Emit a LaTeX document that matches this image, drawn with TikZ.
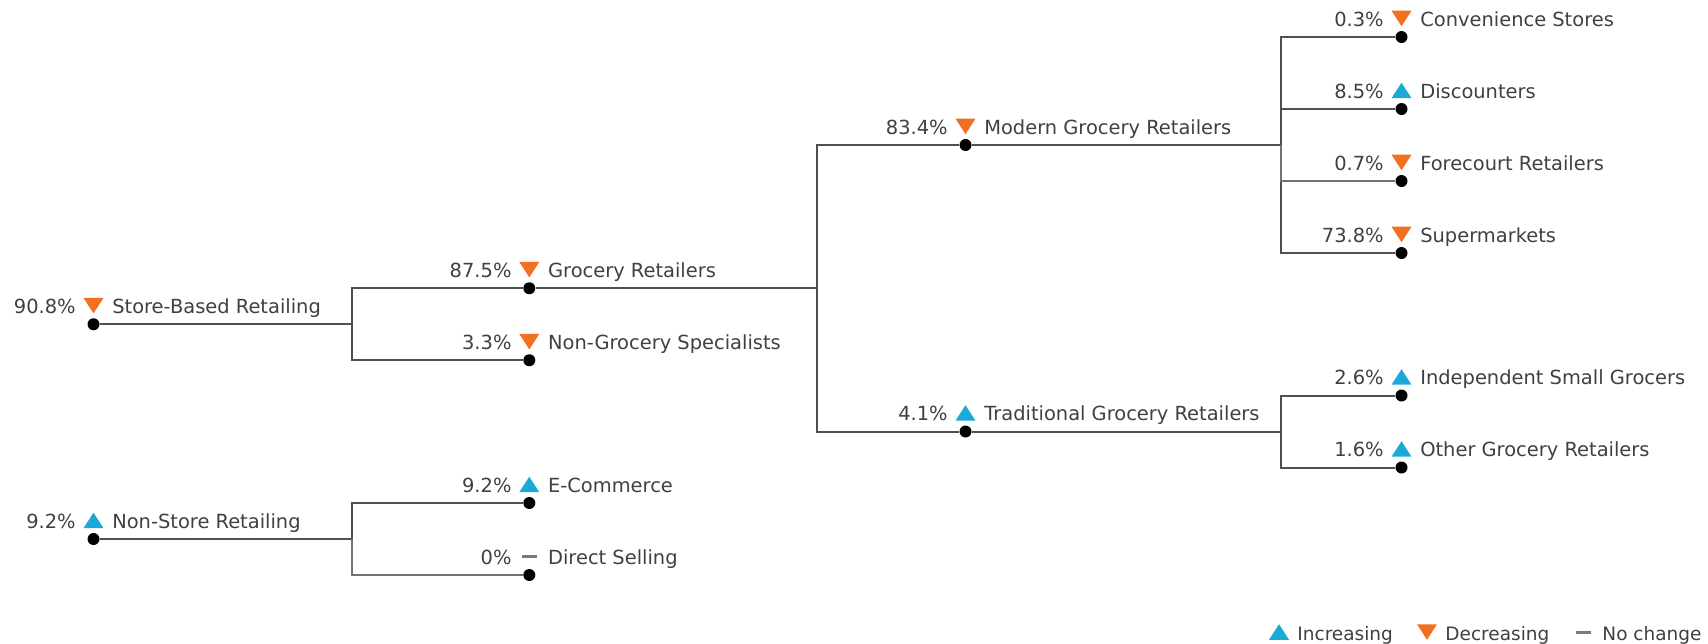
\documentclass[tikz,border=0pt]{standalone}
\usepackage{fontspec}
\setmainfont{DejaVu Sans}
\usepackage{tikz}
\usetikzlibrary{positioning}

\definecolor{inccol}{HTML}{1BA9D8}
\definecolor{deccol}{HTML}{F36F21}
\definecolor{flatcol}{HTML}{7A7A7A}
\definecolor{linecol}{HTML}{4F4F4F}
\definecolor{txtcol}{HTML}{404040}

\begin{document}
\begin{tikzpicture}[
            x = 0.5pt, y = -0.5pt, % one unit is one pixel, y runs down
            branch/.style = {draw = linecol, line width = 1pt},
            thinbranch/.style = {draw = linecol!80, line width = 0.55pt},
            dotnode/.style = {circle, fill = black, inner sep = 0, minimum size = 6pt},
            pcttext/.style = {font = \fontsize{9.72}{11}\selectfont, text = txtcol, inner sep = 0,
                anchor = base east, xshift = -5.5pt, yshift = 5.5pt},
            lbltext/.style = {font = \fontsize{9.72}{11}\selectfont, text = txtcol, inner sep = 0,
                anchor = base west, xshift = 6pt, yshift = 5.5pt},
            legtext/.style = {font = \fontsize{9.25}{11}\selectfont, text = txtcol, inner sep = 0,
                anchor = base west},
            pct/.style = {label = {[pcttext]left:#1}},
            lbl/.style = {label = {[lbltext]right:#1}},
            trimark/.style = {inner sep = 0, minimum width = 10pt, minimum height = 7.75pt},
            incshape/.style = {trimark, path picture = {\fill[inccol]
                (path picture bounding box.south west) -- (path picture bounding box.south east)
                -- (path picture bounding box.north) -- cycle;}},
            decshape/.style = {trimark, path picture = {\fill[deccol]
                (path picture bounding box.north west) -- (path picture bounding box.north east)
                -- (path picture bounding box.south) -- cycle;}},
            flatshape/.style = {fill = flatcol, inner sep = 0, minimum width = 7.5pt, minimum height = 1.5pt},
            incmark/.style = {label = {[incshape, anchor = south, label distance = 2pt]above:{}}},
            decmark/.style = {label = {[decshape, anchor = south, label distance = 2pt]above:{}}},
            flatmark/.style = {label = {[flatshape, anchor = south, label distance = 5.1pt]above:{}}}
        ]

        \path[use as bounding box, fill = white] (0,0) rectangle (1708,643);

        % store-based branch
        \node[dotnode, pct=90.8\%, decmark, lbl=Store-Based Retailing] (sbr) at (93.5,324.25) {};
        \node[dotnode, pct=87.5\%, decmark, lbl=Grocery Retailers] (gr) at (529.3,288.25) {};
        \node[dotnode, pct=3.3\%, decmark, lbl=Non-Grocery Specialists] (ngs) at (529.3,360.25) {};
        \node[dotnode, pct=83.4\%, decmark, lbl=Modern Grocery Retailers] (mgr) at (965.5,145) {};
        \node[dotnode, pct=4.1\%, incmark, lbl=Traditional Grocery Retailers] (tgr) at (965.5,431.5) {};

        \node[dotnode, pct=0.3\%, decmark, lbl=Convenience Stores] (cs) at (1401.5,37) {};
        \node[dotnode, pct=8.5\%, incmark, lbl=Discounters] (disc) at (1401.5,109) {};
        \node[dotnode, pct=0.7\%, decmark, lbl=Forecourt Retailers] (fr) at (1401.5,181) {};
        \node[dotnode, pct=73.8\%, decmark, lbl=Supermarkets] (sm) at (1401.5,253) {};
        \node[dotnode, pct=2.6\%, incmark, lbl=Independent Small Grocers] (isg) at (1401.5,395.5) {};
        \node[dotnode, pct=1.6\%, incmark, lbl=Other Grocery Retailers] (ogr) at (1401.5,467.5) {};

        % non-store branch
        \node[dotnode, pct=9.2\%, incmark, lbl=Non-Store Retailing] (nsr) at (93.5,539) {};
        \node[dotnode, pct=9.2\%, incmark, lbl=E-Commerce] (ec) at (529.3,503) {};
        \node[dotnode, pct=0\%, flatmark, lbl=Direct Selling] (ds) at (529.3,575) {};

        \coordinate (j1) at (352,324.25);
        \coordinate (j2) at (817,288.25);
        \coordinate (j3) at (1281,145);
        \coordinate (j4) at (1281,431.5);
        \coordinate (j5) at (352,539);

        \path[branch] (sbr) -- (j1) |- (gr);
        \path[branch] (j1) |- (ngs);
        \path[branch] (gr) -- (j2) |- (mgr);
        \path[branch] (j2) |- (tgr);
        \path[branch] (mgr) -- (j3) |- (cs);
        \path[branch] (j3) |- (disc);
        \path[branch] (j3) |- (sm);
        \path[thinbranch] (j3) |- (fr);
        \path[branch] (tgr) -- (j4) |- (isg);
        \path[branch] (j4) |- (ogr);
        \path[branch] (nsr) -- (j5) |- (ec);
        \path[thinbranch] (j5) |- (ds);

        % legend
        \node[incshape] (leginc) at (1279,632) {};
        \node[legtext] (legincT) at (1297,640) {Increasing};
        \node[decshape] (legdec) at (1427,632) {};
        \node[legtext] (legdecT) at (1445,640) {Decreasing};
        \node[flatshape] (legflat) at (1583,632) {};
        \node[legtext] (legflatT) at (1602,640) {No change};

  \end{tikzpicture}
\end{document}
